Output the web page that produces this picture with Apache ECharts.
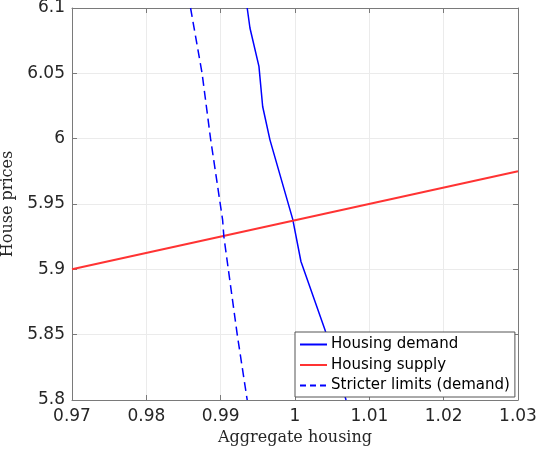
<!DOCTYPE html>
<html>
<head>
<meta charset="utf-8">
<script src="https://cdn.jsdelivr.net/npm/echarts@6/dist/echarts.min.js"></script>
<style>
  html, body { margin: 0; padding: 0; background: #fff; }
  #chart { width: 537px; height: 449px; }
</style>
</head>
<body>
<div id="chart"></div>
<script>
  // values
  var demandX = [0.99357, 0.99394, 0.99515, 0.99565, 0.99663, 0.99969, 1.0008, 1.00404, 1.00687]
  var demandY = [6.1, 6.0847, 6.0553, 6.0246, 5.9991, 5.9384, 5.906, 5.8536, 5.8]
  var supplyX = [0.97, 1.03]
  var supplyY = [5.9, 5.975]
  var strictX = [0.98595, 0.9875, 0.98864, 0.99026, 0.99043, 0.99223, 0.99357]
  var strictY = [6.1, 6.05, 6.0, 5.9379, 5.925, 5.85, 5.8]

  var xMin = 0.97, xMax = 1.03, xStep = 0.01
  var yMin = 5.8, yMax = 6.1, yStep = 0.05

  function pairs(xs, ys) {
    return xs.map(function (x, i) { return [x, ys[i]] })
  }
  function fmt(v) { return String(parseFloat(v.toFixed(2))) }

  var axisColor = '#7a7a7a'
  var tickFont = { fontFamily: 'DejaVu Sans', fontSize: 17, color: '#262626' }
  var titleFont = { fontFamily: 'DejaVu Serif', fontSize: 16, color: '#262626' }

  var chart = echarts.init(document.getElementById('chart'))
  chart.setOption({
    animation: false,
    backgroundColor: '#fff',
    grid: { left: 72, right: 19, top: 8, bottom: 49, outerBoundsMode: 'none', containLabel: false },
    legend: {
      orient: 'vertical',
      left: 295,
      top: 332,
      backgroundColor: '#fff',
      borderColor: '#555',
      borderWidth: 1,
      padding: [5, 5, 4, 4],
      itemWidth: 27,
      itemHeight: 14,
      itemGap: 5.5,
      itemStyle: { opacity: 0 },
      textStyle: { fontFamily: 'DejaVu Sans', fontSize: 15, color: '#000', padding: [0, 0, 0, -1] },
      data: [
        { name: 'Housing demand', lineStyle: { type: 'solid' } },
        { name: 'Housing supply', lineStyle: { type: 'solid' } },
        { name: 'Stricter limits (demand)', lineStyle: { type: [6, 4] } }
      ]
    },
    xAxis: [{
      type: 'value',
      min: xMin, max: xMax, interval: xStep,
      name: 'Aggregate housing',
      nameLocation: 'middle',
      nameGap: 30,
      nameTextStyle: titleFont,
      axisLine: { show: true, lineStyle: { color: axisColor } },
      axisTick: { show: true, inside: true, length: 5, lineStyle: { color: axisColor } },
      axisLabel: Object.assign({ margin: 8, formatter: fmt }, tickFont),
      splitLine: { show: true, lineStyle: { color: '#ebebeb' } }
    }, {
      type: 'value',
      position: 'top',
      min: xMin, max: xMax, interval: xStep,
      axisLine: { show: true, lineStyle: { color: axisColor } },
      axisTick: { show: true, inside: true, length: 5, lineStyle: { color: axisColor } },
      axisLabel: { show: false },
      splitLine: { show: false }
    }],
    yAxis: [{
      type: 'value',
      min: yMin, max: yMax, interval: yStep,
      name: 'House prices',
      nameLocation: 'middle',
      nameGap: 49,
      nameTextStyle: titleFont,
      axisLine: { show: true, lineStyle: { color: axisColor } },
      axisTick: { show: true, inside: true, length: 5, lineStyle: { color: axisColor } },
      axisLabel: Object.assign({ margin: 7, formatter: fmt }, tickFont),
      splitLine: { show: true, lineStyle: { color: '#ebebeb' } }
    }, {
      type: 'value',
      position: 'right',
      min: yMin, max: yMax, interval: yStep,
      axisLine: { show: true, lineStyle: { color: axisColor } },
      axisTick: { show: true, inside: true, length: 5, lineStyle: { color: axisColor } },
      axisLabel: { show: false },
      splitLine: { show: false }
    }],
    series: [{
      name: 'Housing demand',
      type: 'line',
      data: pairs(demandX, demandY),
      symbol: 'none',
      clip: true,
      color: '#0000ff',
      lineStyle: { color: '#0000ff', width: 1.5 }
    }, {
      name: 'Housing supply',
      type: 'line',
      data: pairs(supplyX, supplyY),
      symbol: 'none',
      clip: true,
      color: '#ff3333',
      lineStyle: { color: '#ff3333', width: 2 }
    }, {
      name: 'Stricter limits (demand)',
      type: 'line',
      data: pairs(strictX, strictY),
      symbol: 'none',
      clip: true,
      color: '#0000ff',
      lineStyle: { color: '#0000ff', width: 1.5, type: [9, 5] }
    }]
  })
</script>
</body>
</html>
